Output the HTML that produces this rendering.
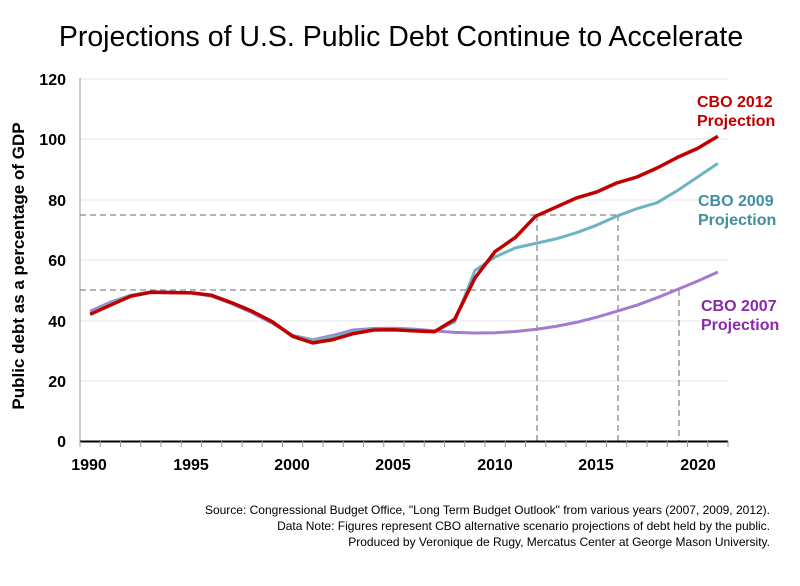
<!DOCTYPE html>
<html><head><meta charset="utf-8"><style>
body{margin:0;background:#fff;width:800px;height:581px;overflow:hidden;font-family:"Liberation Sans",sans-serif}
</style></head><body>
<svg width="800" height="581" viewBox="0 0 800 581" font-family="Liberation Sans, sans-serif">
<text x="401" y="46" text-anchor="middle" font-size="28.5" fill="#000">Projections of U.S. Public Debt Continue to Accelerate</text>
<g stroke="#e4e4e4" stroke-width="1">
<line x1="80" y1="79" x2="728" y2="79"/><line x1="80" y1="139" x2="728" y2="139"/><line x1="80" y1="200" x2="728" y2="200"/><line x1="80" y1="260" x2="728" y2="260"/><line x1="80" y1="321" x2="728" y2="321"/><line x1="80" y1="381" x2="728" y2="381"/>
</g>
<line x1="80" y1="78" x2="80" y2="442" stroke="#999"/>
<g stroke="#888" stroke-width="1.3" stroke-dasharray="6,4" fill="none">
<path d="M80 215H618M80 290H679M537 215V441M618 215V441M679 290V441"/>
</g>
<g font-size="16" font-weight="bold" text-anchor="end" fill="#000">
<text x="66" y="85">120</text><text x="66" y="145">100</text><text x="66" y="206">80</text><text x="66" y="266">60</text><text x="66" y="327">40</text><text x="66" y="387">20</text><text x="66" y="447">0</text>
</g>
<text transform="translate(24,266) rotate(-90)" text-anchor="middle" font-size="17" font-weight="bold">Public debt as a percentage of GDP</text>
<line x1="80" y1="441.5" x2="728" y2="441.5" stroke="#000" stroke-width="2"/>
<g stroke="#999" id="ticks"></g>
<g font-size="16" font-weight="bold" text-anchor="middle">
<text x="89" y="470">1990</text><text x="191" y="470">1995</text><text x="292" y="470">2000</text><text x="393" y="470">2005</text><text x="495" y="470">2010</text><text x="596" y="470">2015</text><text x="698" y="470">2020</text>
</g>
<g fill="none" stroke-width="3" stroke-linejoin="round">
<polyline id="p07" stroke="#a57ad0"/>
<polyline id="p09" stroke="#6fb3c0"/>
<polyline id="p12" stroke="#c00000" stroke-width="3.5"/>
</g>
<g font-size="16" font-weight="bold">
<text x="697" y="107" fill="#c00000">CBO 2012</text><text x="697" y="126" fill="#c00000">Projection</text>
<text x="698" y="206" fill="#3f8fa0">CBO 2009</text><text x="698" y="225" fill="#3f8fa0">Projection</text>
<text x="701" y="311" fill="#8a2aa8">CBO 2007</text><text x="701" y="330" fill="#8a2aa8">Projection</text>
</g>
<g font-size="12" text-anchor="end" fill="#000">
<text x="770" y="514">Source: Congressional Budget Office, "Long Term Budget Outlook" from various years (2007, 2009, 2012).</text>
<text x="770" y="530">Data Note: Figures represent CBO alternative scenario projections of debt held by the public.</text>
<text x="770" y="546">Produced by Veronique de Rugy, Mercatus Center at George Mason University.</text>
</g>
</svg>
<script>
function pts(a){return a.map((v,i)=>(80+(i+0.5)*20.25).toFixed(1)+","+(441-v*3.017).toFixed(1)).join(" ");}
var base=[42,45,48,49.3,49.2,49.1,48.3,45.8,43,39.5,34.7,32.5,33.6,35.6,36.8,36.9,36.5,36.2];
document.getElementById("p12").setAttribute("points",pts(base.concat([40.3,54,62.8,67.5,74.5,77.5,80.5,82.5,85.5,87.5,90.5,94,97,101])));
document.getElementById("p09").setAttribute("points",pts([42.5,45.5,48.2,49.4,49.3,49.1,48.2,45.6,42.8,39.2,35,33.3,34.5,36.3,37,37.1,36.8,36.2,39.5,56.5,61,64,65.5,67,69,71.5,74.5,77,79,83,87.5,92]));
document.getElementById("p07").setAttribute("points",pts([43,46,48.3,49.5,49.4,49.1,48,45.5,42.5,39,35,33.5,35,36.8,37.3,37.4,37.1,36.5,36,35.8,35.9,36.3,37,38,39.3,41,43,45,47.5,50.2,53,56]));
var t="";for(var i=0;i<=32;i++){var x=80+i*20.25;t+='<line x1="'+x+'" y1="441" x2="'+x+'" y2="447"/>';}
document.getElementById("ticks").innerHTML=t;
</script>
</body></html>
